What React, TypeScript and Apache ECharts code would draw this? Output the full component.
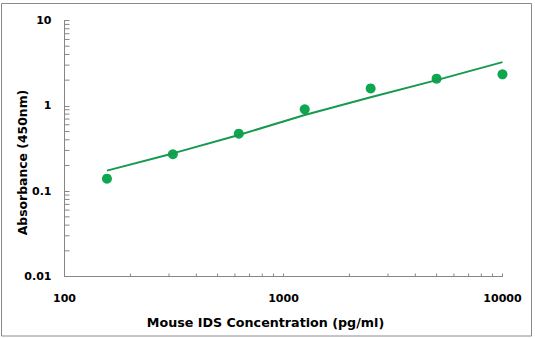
import React, { useEffect, useRef } from "react";
import * as echarts from "echarts";

const concentrations = [156.25, 312.5, 625, 1250, 2500, 5000, 10000];
const absorbance = [0.14, 0.271, 0.472, 0.91, 1.6, 2.08, 2.34];
const fitX = [156.25, 312.5, 625, 1250, 2500, 5000, 10000];
const fitY = [0.174, 0.277, 0.455, 0.78, 1.26, 2.0, 3.25];
const xMinorTicks = [200, 300, 400, 500, 600, 700, 800, 900, 2000, 3000, 4000, 5000, 6000, 7000, 8000, 9000];
const yMinorTicks = [0.02, 0.03, 0.04, 0.05, 0.06, 0.07, 0.08, 0.09, 0.2, 0.3, 0.4, 0.5, 0.6, 0.7, 0.8, 0.9, 2, 3, 4, 5, 6, 7, 8, 9];
const xTitle = "Mouse IDS Concentration (pg/ml)";
const yTitle = "Absorbance (450nm)";

const AXIS = "#868686";
const FONT = "DejaVu Sans";

const fmt = (v: number) => parseFloat(Number(v).toPrecision(6)).toString();

export default function App() {
  const ref = useRef<HTMLDivElement>(null);
  useEffect(() => {
    if (!ref.current) return;
    const chart = echarts.init(ref.current, null, { renderer: "svg" });
    chart.setOption({
      animation: false,
      backgroundColor: "#ffffff",
      grid: { left: 64.5, right: 32.5, top: 20.5, bottom: 61.5, containLabel: false },
      xAxis: {
        type: "log",
        logBase: 10,
        min: 100,
        max: 10000,
        axisLine: { show: true, lineStyle: { color: AXIS, width: 1 } },
        axisTick: { show: true, inside: true, length: 3, lineStyle: { color: AXIS } },
        splitLine: { show: false },
        axisLabel: {
          color: "#000",
          fontFamily: FONT,
          fontWeight: "bold",
          fontSize: 11,
          margin: 16,
          formatter: fmt,
        },
      },
      yAxis: {
        type: "log",
        logBase: 10,
        min: 0.01,
        max: 10,
        axisLine: { show: true, lineStyle: { color: AXIS, width: 1 } },
        axisTick: { show: true, inside: true, length: 5, lineStyle: { color: AXIS } },
        splitLine: { show: false },
        axisLabel: {
          color: "#000",
          fontFamily: FONT,
          fontWeight: "bold",
          fontSize: 11,
          margin: 13,
          formatter: fmt,
        },
      },
      graphic: [
        {
          type: "rect",
          shape: { x: 1.5, y: 3.5, width: 530, height: 332.5 },
          style: { fill: "none", stroke: "#8a8a8a", lineWidth: 1 },
          silent: true,
        },
        {
          type: "text",
          x: 265.5,
          y: 322,
          style: {
            text: xTitle,
            fontFamily: FONT,
            fontWeight: "bold",
            fontSize: 12.7,
            fill: "#000",
            textAlign: "center",
            textVerticalAlign: "middle",
          },
        },
        {
          type: "text",
          x: 22,
          y: 162.5,
          rotation: Math.PI / 2,
          style: {
            text: yTitle,
            fontFamily: FONT,
            fontWeight: "bold",
            fontSize: 12.4,
            fill: "#000",
            textAlign: "center",
            textVerticalAlign: "middle",
          },
        },
      ],
      series: [
        {
          type: "custom",
          clip: false,
          silent: true,
          data: xMinorTicks.map((v) => [v, 0.01]),
          renderItem: (params: any, api: any) => {
            const p = api.coord([api.value(0), 0.01]);
            return {
              type: "line",
              shape: { x1: p[0], y1: p[1], x2: p[0], y2: p[1] - 3 },
              style: { stroke: AXIS, lineWidth: 1 },
            };
          },
        },
        {
          type: "custom",
          clip: false,
          silent: true,
          data: yMinorTicks.map((v) => [100, v]),
          renderItem: (params: any, api: any) => {
            const p = api.coord([100, api.value(1)]);
            return {
              type: "line",
              shape: { x1: p[0], y1: p[1], x2: p[0] + 5, y2: p[1] },
              style: { stroke: AXIS, lineWidth: 1 },
            };
          },
        },
        {
          type: "line",
          data: fitX.map((x, i) => [x, fitY[i]]),
          showSymbol: false,
          symbol: "none",
          lineStyle: { color: "#179a50", width: 2 },
          silent: true,
        },
        {
          type: "scatter",
          data: concentrations.map((x, i) => [x, absorbance[i]]),
          symbol: "circle",
          symbolSize: 10,
          itemStyle: { color: "#0ea64e", opacity: 1 },
          silent: true,
        },
      ],
    });
    return () => chart.dispose();
  }, []);
  return (
    <div
      ref={ref}
      style={{ position: "fixed", left: 0, top: 0, width: 535, height: 338 }}
    />
  );
}
